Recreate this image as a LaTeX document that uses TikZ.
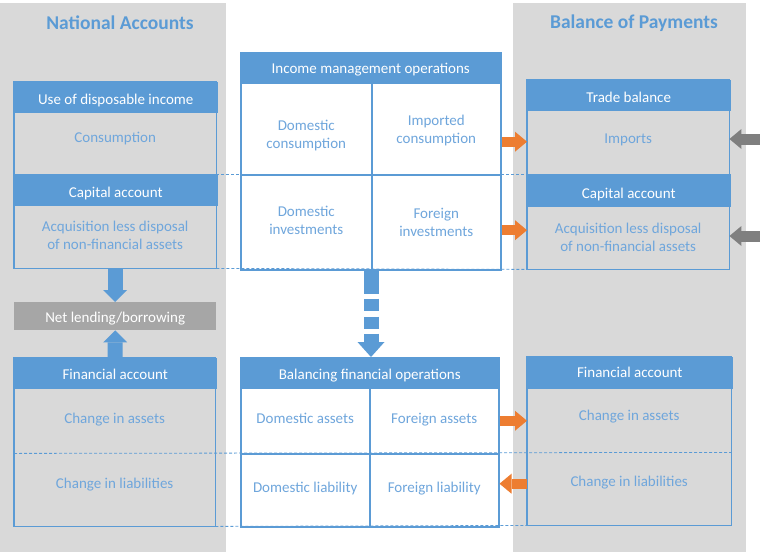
\documentclass[tikz,border=0pt]{standalone}
\usepackage{fontspec}
\setmainfont{Carlito}
\usetikzlibrary{arrows.meta}

\definecolor{hdrblue}{HTML}{5B9BD5}
\definecolor{txtblue}{HTML}{6FA6DC}
\definecolor{panelgrey}{HTML}{D9D9D9}
\definecolor{netgrey}{HTML}{A6A6A6}
\definecolor{arrorange}{HTML}{ED7D31}
\definecolor{arrgrey}{HTML}{7F7F7F}

\tikzset{
  tht/.style={text height=#1pt},
  hdr/.style={anchor=north west,inner sep=0pt,fill=hdrblue,draw=hdrblue,line width=1.5pt,text=white,
              minimum height=29pt,text depth=0pt,text height=14pt},
  cell/.style={anchor=north west,inner sep=0pt,align=center,text=txtblue,text depth=10pt},
  wcell/.style={cell,fill=white,draw=hdrblue,line width=1.5pt},
  boxline/.style={draw=hdrblue,line width=1.5pt},
  netbox/.style={anchor=north west,inner sep=0pt,fill=netgrey,text=white,text depth=0pt},
  ttl/.style={text=hdrblue,font=\fontsize{19.5}{22}\selectfont\bfseries},
  guide/.style={draw=hdrblue,line width=0.8pt,dash pattern=on 3pt off 2pt},
  bluearrow/.style={draw=hdrblue,line width=15pt,-{Triangle[length=12pt,width=24pt,line width=0pt]}},
  dasharrow/.style={draw=hdrblue,line width=15pt,dash pattern=on 23pt off 5pt on 12pt off 6pt on 12pt off 5pt on 40pt,
                    -{Triangle[length=15pt,width=27pt,line width=0pt]}},
  orarrow/.style={draw=arrorange,line width=10pt,-{Triangle[length=12pt,width=20pt,line width=0pt]}},
  gyarrow/.style={draw=arrgrey,line width=11pt,-{Triangle[length=12pt,width=20pt,line width=0pt]}}
}

\begin{document}
\begin{tikzpicture}[x=1pt,y=-1pt,font=\fontsize{15}{18}\selectfont]

\useasboundingbox (0,0) rectangle (760,552);

% grey panels
\fill[panelgrey] (0,3) rectangle (226,552);
\fill[panelgrey] (513,3) rectangle (746,552);

% titles
\node[ttl] (natl) at (120,23) {National Accounts};
\node[ttl] (bop) at (634,23) {Balance of Payments};

% national accounts, upper box
\node[hdr,tht=15,minimum width=202pt] (usehdr) at (14,82) {Use of disposable income};
\node[cell,tht=9,minimum width=202pt,minimum height=63pt] (consum) at (14,111) {Consumption};
\node[hdr,tht=16,minimum width=202pt,minimum height=30pt] (capl) at (14,174) {Capital account};
\node[cell,tht=36,minimum width=202pt,minimum height=64pt] (acql) at (14,204) {Acquisition less disposal\\of non-financial assets};
\draw[boxline] (usehdr.north west) rectangle (acql.south east);

% net lending
\node[netbox,tht=12,minimum width=202pt,minimum height=28pt] (netlb) at (14,302) {Net lending/borrowing};

% national accounts, lower box
\node[hdr,tht=13,minimum width=201pt] (finl) at (14,358) {Financial account};
\node[cell,tht=16,minimum width=201pt,minimum height=66pt] (chasl) at (14,387) {Change in assets};
\node[cell,tht=7,minimum width=201pt,minimum height=73pt] (chlil) at (14,453) {Change in liabilities};
\draw[boxline] (finl.north west) rectangle (chlil.south east);

\draw[bluearrow] (acql.south) -- (netlb.north);
\draw[bluearrow] (finl.north) -- (netlb.south);

% income management operations
\node[hdr,tht=12,minimum width=260pt,minimum height=30pt] (imohdr) at (240,52) {Income management operations};
\node[wcell,tht=50,minimum width=131pt,minimum height=92pt] (domcons) at (240,82) {Domestic\\consumption};
\node[wcell,tht=40,minimum width=129pt,minimum height=92pt] (impcons) at (371,82) {Imported\\consumption};
\node[wcell,tht=35,minimum width=131pt,minimum height=95pt] (dominv) at (240,174) {Domestic\\investments};
\node[wcell,tht=39,minimum width=129pt,minimum height=95pt] (forinv) at (371,174) {Foreign\\investments};

% balancing financial operations
\node[hdr,tht=14,minimum width=258pt,minimum height=30pt] (bfohdr) at (240,357) {Balancing financial operations};
\node[wcell,tht=16,minimum width=129pt,minimum height=66pt] (domast) at (240,387) {Domestic assets};
\node[wcell,tht=16,minimum width=129pt,minimum height=66pt] (forast) at (369,387) {Foreign assets};
\node[wcell,tht=15,minimum width=129pt,minimum height=73pt] (domlia) at (240,453) {Domestic liability};
\node[wcell,tht=15,minimum width=129pt,minimum height=73pt] (forlia) at (369,453) {Foreign liability};

\draw[dasharrow] (forinv.south west) -- (forinv.south west |- bfohdr.north);

% balance of payments, upper box
\node[hdr,tht=15,minimum width=202pt] (tradehdr) at (527,80) {Trade balance};
\node[cell,tht=13,minimum width=202pt,minimum height=65pt] (imports) at (527,109) {Imports};
\node[hdr,tht=17,minimum width=202pt,minimum height=31pt] (capr) at (527,174) {Capital account};
\node[cell,tht=38,minimum width=202pt,minimum height=64pt] (acqr) at (527,205) {Acquisition less disposal\\of non-financial assets};
\draw[boxline] (tradehdr.north west) rectangle (acqr.south east);

% balance of payments, lower box
\node[hdr,tht=10,minimum width=204pt,minimum height=30pt] (finr) at (527,357) {Financial account};
\node[cell,tht=11,minimum width=204pt,minimum height=65pt] (chasr) at (527,387) {Change in assets};
\node[cell,tht=5,minimum width=204pt,minimum height=73pt] (chlir) at (527,452) {Change in liabilities};
\draw[boxline] (finr.north west) rectangle (chlir.south east);

% dashed guides
\draw[guide] (consum.south east) -- (imports.south west);
\draw[guide] (acql.south east) -- (acqr.south west);
\draw[guide] (chasl.south west) -- (chasr.south east);
\draw[guide] (chlil.south east) -- (chlir.south west);

% flows
\draw[orarrow] (imports.west -| impcons.east) -- (imports.west);
\draw[orarrow] ([yshift=7pt]acqr.west -| forinv.east) -- ([yshift=7pt]acqr.west);
\draw[orarrow] (forast.east) -- (forast.east -| chasr.west);
\draw[orarrow] ([yshift=5pt]chlir.west) -- ([yshift=5pt]chlir.west -| forlia.east);

\coordinate (impin) at (760,139);
\coordinate (acqin) at (760,236);
\draw[gyarrow] (impin) -- (impin -| imports.east);
\draw[gyarrow] (acqin) -- (acqin -| acqr.east);

\end{tikzpicture}
\end{document}
